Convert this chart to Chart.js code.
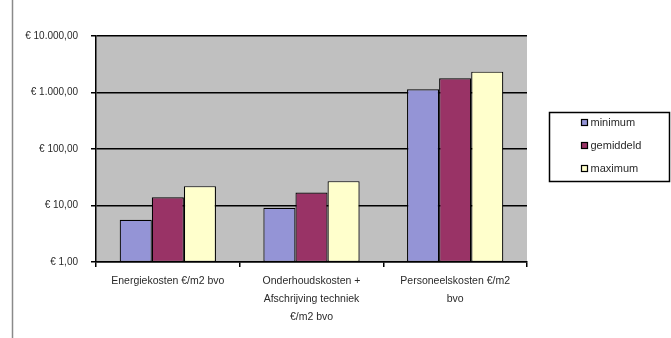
<!DOCTYPE html>
<html>
<head>
<meta charset="utf-8">
<script src="https://cdn.jsdelivr.net/npm/chart.js@4"></script>
<style>
    html, body { margin: 0; padding: 0; background: #ffffff; }
    #wrap { position: relative; width: 671px; height: 338px; }
</style>
</head>
<body>
<div id="wrap"><canvas id="cost-chart"></canvas></div>
<script>
const CATEGORIES = [
    "Energiekosten €/m2 bvo",
    ["Onderhoudskosten +", "Afschrijving techniek", "€/m2 bvo"],
    ["Personeelskosten €/m2", "bvo"]
];
const SERIES_NAMES = ["minimum", "gemiddeld", "maximum"];
const MINIMUM = [5.6, 9.1, 1140];
const GEMIDDELD = [14, 17, 1780];
const MAXIMUM = [22, 27, 2340];
const Y_TICKS = [1, 10, 100, 1000, 10000];

const COLORSET = ["#9494d6", "#993366", "#ffffcc"];
const PLOTCOLOR = "#c0c0c0";
const TEXTCOLOR = "#2a2a2a";
const FONT = "'Liberation Sans', Arial, sans-serif";

function euro(v) {
    const parts = Math.round(v).toString().replace(/\B(?=(\d{3})+(?!\d))/g, ".");
    return "€ " + parts + ",00";
}

const plotBackground = {
    id: "plotBackground",
    beforeDraw(chart) {
        const ctx = chart.ctx;
        const a = chart.chartArea;
        ctx.save();
        ctx.fillStyle = PLOTCOLOR;
        ctx.fillRect(a.left, a.top, a.right - a.left, a.bottom - a.top);
        // frame line on the left of the picture
        ctx.strokeStyle = "#8a8a8a";
        ctx.lineWidth = 1.5;
        ctx.beginPath();
        ctx.moveTo(12.5, 0);
        ctx.lineTo(12.5, chart.height);
        ctx.stroke();
        ctx.restore();
    }
};

const boxLegend = {
    id: "boxLegend",
    afterDraw(chart) {
        const ctx = chart.ctx;
        const x = 549.5, y = 112.5, w = 120, h = 69;
        ctx.save();
        ctx.fillStyle = "#ffffff";
        ctx.fillRect(x, y, w, h);
        ctx.strokeStyle = "#000000";
        ctx.lineWidth = 1.5;
        ctx.strokeRect(x, y, w, h);
        ctx.font = "11px " + FONT;
        ctx.textBaseline = "middle";
        chart.data.datasets.forEach((ds, i) => {
            const cy = y + 10 + i * 23;
            ctx.fillStyle = ds.backgroundColor;
            ctx.fillRect(x + 32, cy - 3, 6, 6);
            ctx.lineWidth = 1.2;
            ctx.strokeRect(x + 32, cy - 3, 6, 6);
            ctx.fillStyle = TEXTCOLOR;
            ctx.fillText(ds.label, x + 41, cy);
        });
        ctx.restore();
    }
};

const ctx = document.querySelector("#cost-chart").getContext("2d");
const configuration = {
    type: "bar",
    data: {
        labels: CATEGORIES,
        datasets: [
            { label: SERIES_NAMES[0], data: MINIMUM, backgroundColor: COLORSET[0] },
            { label: SERIES_NAMES[1], data: GEMIDDELD, backgroundColor: COLORSET[1] },
            { label: SERIES_NAMES[2], data: MAXIMUM, backgroundColor: COLORSET[2] }
        ]
    },
    options: {
        responsive: true,
        maintainAspectRatio: false,
        animation: false,
        borderColor: "#000000",
        borderWidth: 1.2,
        borderSkipped: false,
        datasets: {
            bar: {
                barPercentage: 1,
                categoryPercentage: 0.67
            }
        },
        layout: {
            padding: { left: 0, right: 144, top: 36, bottom: 0 }
        },
        scales: {
            x: {
                offset: true,
                grid: {
                    offset: true,
                    drawOnChartArea: false,
                    drawTicks: true,
                    tickLength: 5,
                    color: "#000000",
                    lineWidth: 1.5
                },
                border: { color: "#000000", width: 1.5 },
                ticks: {
                    color: TEXTCOLOR,
                    padding: 5,
                    maxRotation: 0,
                    autoSkip: false,
                    font: { family: FONT, size: 10.5, lineHeight: 1.7 }
                },
                afterFit(scale) { scale.height = 76; }
            },
            y: {
                type: "logarithmic",
                min: 1,
                max: 10000,
                afterBuildTicks(scale) {
                    scale.ticks = Y_TICKS.map(v => ({ value: v }));
                },
                grid: {
                    color: "#000000",
                    lineWidth: 1.5,
                    tickLength: 5
                },
                border: { color: "#000000", width: 1.5 },
                ticks: {
                    color: TEXTCOLOR,
                    padding: 13,
                    font: { family: FONT, size: 10 },
                    callback: v => euro(v)
                },
                afterFit(scale) { scale.width = 96; }
            }
        },
        plugins: {
            legend: { display: false },
            tooltip: { enabled: false }
        }
    },
    plugins: [plotBackground, boxLegend]
};
new Chart(ctx, configuration);
</script>
</body>
</html>
